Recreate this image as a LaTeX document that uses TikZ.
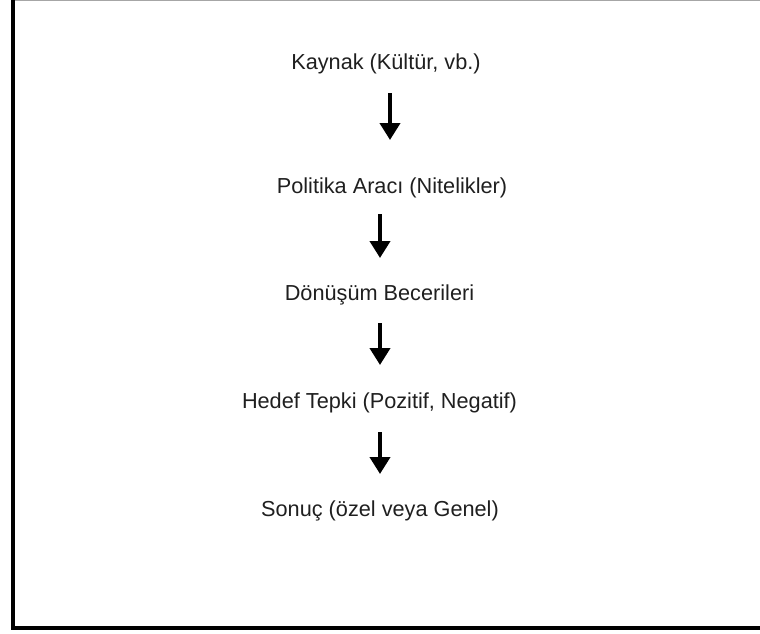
\documentclass[tikz,border=0pt]{standalone}
\usepackage{fontspec}
\setmainfont{Liberation Sans}
\usetikzlibrary{arrows.meta}
\begin{document}
\begin{tikzpicture}[x=1pt,y=-1pt,
  lbl/.style={anchor=base,inner sep=0pt,font=\fontsize{21.7}{26}\selectfont,text=black!88},
  arr/.style={line width=4pt,draw=black,-{Triangle[width=20pt,length=17pt]}},
  frameline/.style={line width=4.3pt,draw=black}]
\useasboundingbox (0,0) rectangle (760,634);
\draw[line width=1.5pt,draw=black!35] (15,0.5) -- (760,0.5);
\draw[frameline] (13,0) -- (13,628) -- (760,628);
\node[lbl] (k1) at (386,70) {Kaynak (Kültür, vb.)};
\node[lbl] (k2) at (392,193) {Politika Aracı (Nitelikler)};
\node[lbl] (k3) at (379.5,300) {Dönüşüm Becerileri};
\node[lbl] (k4) at (379.5,408) {Hedef Tepki (Pozitif, Negatif)};
\node[lbl] (k5) at (380,516) {Sonuç (özel veya Genel)};
\coordinate (a1s) at (390,93);  \coordinate (a1e) at (390,140);
\coordinate (a2s) at (380,214); \coordinate (a2e) at (380,258);
\coordinate (a3s) at (380,323); \coordinate (a3e) at (380,365);
\coordinate (a4s) at (380,432); \coordinate (a4e) at (380,474);
\draw[arr] (a1s) -- (a1e);
\draw[arr] (a2s) -- (a2e);
\draw[arr] (a3s) -- (a3e);
\draw[arr] (a4s) -- (a4e);
\end{tikzpicture}
\end{document}
